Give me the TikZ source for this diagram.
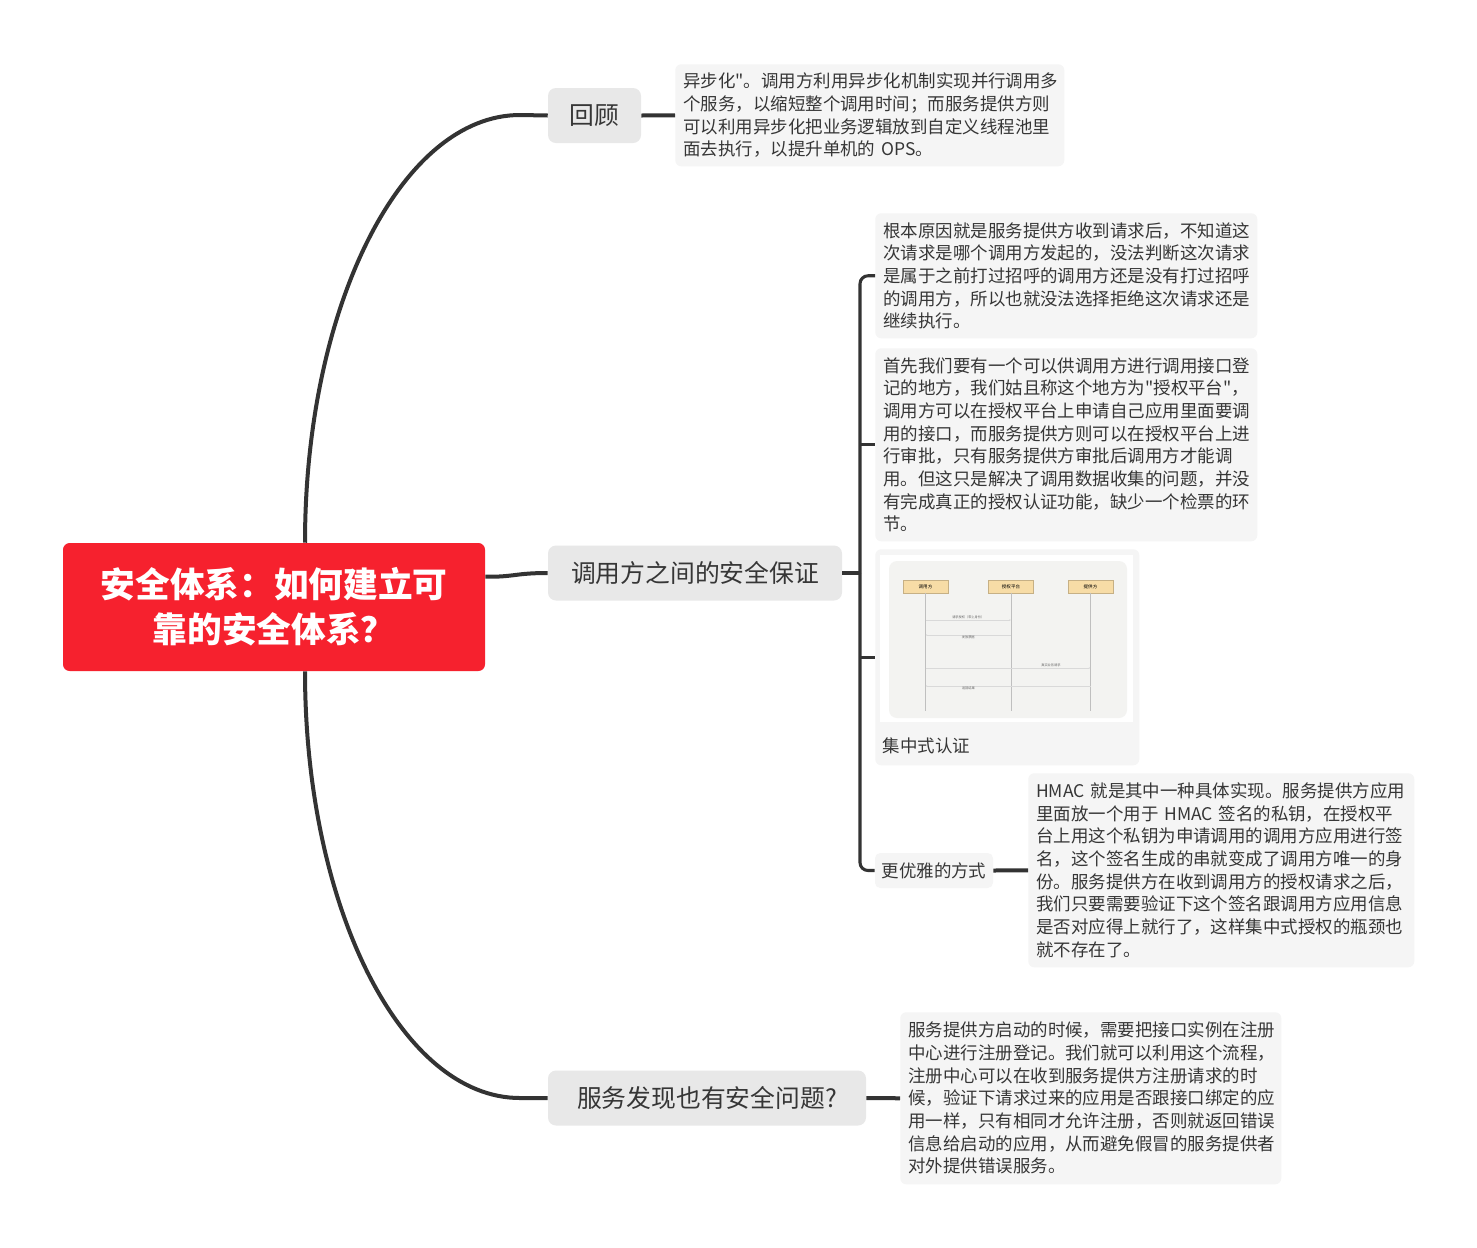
\documentclass[tikz,border=0pt]{standalone}
\usepackage{fontspec}
\setmainfont{Noto Sans CJK SC}
\newfontfamily\plainfont{Noto Sans CJK SC}
\usepackage{xcolor}
\usetikzlibrary{positioning,arrows.meta,calc}
\definecolor{rootred}{HTML}{F6212E}
\definecolor{topicgray}{HTML}{E8E8E8}
\definecolor{notegray}{HTML}{F5F5F5}
\definecolor{linkdark}{HTML}{333333}
\definecolor{textdark}{HTML}{363636}
\definecolor{seqbg}{HTML}{F3F3F1}
\definecolor{seqorange}{HTML}{F7DCA6}
\newcommand{\notefont}{\fontsize{13.1pt}{17pt}\selectfont}
\newcommand{\dq}{{\plainfont"}}
\tikzset{
root/.style={
fill=rootred,
rounded corners=5pt,
text=white,
align=center,
font=\fontsize{26pt}{34pt}\selectfont\bfseries,
minimum width=316.5pt,
minimum height=96pt
},
topic/.style={
fill=topicgray,
rounded corners=6pt,
text=textdark,
inner sep=0pt,
font=\fontsize{18.6pt}{22pt}\selectfont,
minimum height=41.25pt
},
subtopic/.style={
fill=notegray,
rounded corners=4pt,
text=textdark,
inner sep=0pt,
font=\notefont,
minimum width=88.5pt,
minimum height=26.25pt
},
note/.style={
fill=notegray,
rounded corners=4.5pt,
anchor=north west,
align=left,
text=textdark,
inner xsep=6pt,
inner ysep=0pt,
font=\notefont
},
seqhead/.style={
fill=seqorange,
draw=seqorange!80!black,
line width=0.2pt,
inner sep=0pt,
minimum width=33.75pt,
minimum height=9.75pt,
font=\fontsize{3.4pt}{4pt}\selectfont
},
seqlabel/.style={
inner sep=0.5pt,
text=black!60,
font=\fontsize{2.4pt}{3pt}\selectfont
},
lifeline/.style={
draw=black!25,
line width=0.6pt
},
msg/.style={
draw=black!15,
line width=0.5pt,
-{Latex[length=1.2pt,width=1.2pt]}
},
link/.style={
draw=linkdark,
line width=3pt
},
bracket/.style={
draw=linkdark,
line width=2.3pt
}
}
\begin{document}
\begin{tikzpicture}[x=0.75pt,y=-0.75pt]
\fill[white] (0,0) rectangle (1477,1247);
\useasboundingbox (0,0) rectangle (1477,1247);

% central topic
\node[root] (root) at (274,607) {安全体系：如何建立可\\靠的安全体系？};

% main branches
\node[topic,minimum width=69.75pt] (review) at (594.5,115.5) {回顾};
\node[topic,minimum width=220.5pt] (caller) at (695,573) {调用方之间的安全保证};
\node[topic,minimum width=238.5pt] (discovery) at (707,1098) {服务发现也有安全问题?};

% notes
\node[note,text width=279.75pt,minimum height=76.5pt] (recap) at (675,64)
{异步化\dq。调用方利用异步化机制实现并行调用多\\
个服务，以缩短整个调用时间；而服务提供方则\\
可以利用异步化把业务逻辑放到自定义线程池里\\
面去执行，以提升单机的~OPS。};

\node[note,text width=274.5pt,minimum height=93.75pt] (cause) at (875,213)
{根本原因就是服务提供方收到请求后，不知道这\\
次请求是哪个调用方发起的，没法判断这次请求\\
是属于之前打过招呼的调用方还是没有打过招呼\\
的调用方，所以也就没法选择拒绝这次请求还是\\
继续执行。};

\node[note,text width=274.5pt,minimum height=144.75pt] (platform) at (875,348)
{首先我们要有一个可以供调用方进行调用接口登\\
记的地方，我们姑且称这个地方为\dq 授权平台\dq，\\
调用方可以在授权平台上申请自己应用里面要调\\
用的接口，而服务提供方则可以在授权平台上进\\
行审批，只有服务提供方审批后调用方才能调\\
用。但这只是解决了调用数据收集的问题，并没\\
有完成真正的授权认证功能，缺少一个检票的环\\
节。};

\node[fill=notegray,rounded corners=4.5pt,anchor=north west,inner sep=0pt,
minimum width=198pt,minimum height=162pt] (picbox) at (875,549) {};
\node[anchor=west,inner sep=2pt,text=textdark,font=\notefont] (piccap) at (880,746) {集中式认证};

\node[subtopic] (elegant) at (934,870.5) {更优雅的方式};

\node[note,text width=277.5pt,minimum height=145.5pt] (hmac) at (1028,773)
{HMAC~就是其中一种具体实现。服务提供方应用\\
里面放一个用于~HMAC~签名的私钥，在授权平\\
台上用这个私钥为申请调用的调用方应用进行签\\
名，这个签名生成的串就变成了调用方唯一的身\\
份。服务提供方在收到调用方的授权请求之后，\\
我们只要需要验证下这个签名跟调用方应用信息\\
是否对应得上就行了，这样集中式授权的瓶颈也\\
就不存在了。};

\node[note,text width=273.75pt,minimum height=129pt] (register) at (900,1012)
{服务提供方启动的时候，需要把接口实例在注册\\
中心进行注册登记。我们就可以利用这个流程，\\
注册中心可以在收到服务提供方注册请求的时\\
候，验证下请求过来的应用是否跟接口绑定的应\\
用一样，只有相同才允许注册，否则就返回错误\\
信息给启动的应用，从而避免假冒的服务提供者\\
对外提供错误服务。};

% small sequence picture
\fill[white] (880,555) rectangle (1133,722);
\fill[seqbg,rounded corners=6pt] (889,561) rectangle (1127,718);
\foreach \n/\x/\t in {seqcaller/925.5/调用方,seqauth/1011/授权平台,seqprov/1090.5/提供方}
\node[seqhead] (\n) at (\x,586.5) {\t};
\foreach \n in {seqcaller,seqauth,seqprov}
\draw[lifeline] (\n.south) -- (\n.south |- 0,711);
\draw[msg] (seqcaller |- 0,620) -- (seqauth |- 0,620) node[midway,above,seqlabel] {请求授权（带上身份）};
\draw[msg] (seqauth |- 0,635) -- (seqcaller |- 0,635) node[midway,below,seqlabel] {发放票据};
\draw[msg] (seqcaller |- 0,668) -- (seqprov |- 0,668) node[pos=0.76,above,seqlabel] {真实业务请求};
\draw[msg] (seqprov |- 0,686) -- (seqcaller |- 0,686) node[pos=0.74,below,seqlabel] {返回结果};

% connectors
\draw[link] (root.north) ++(31,0) .. controls (305,307) and (401,115) .. (520,115) -- (review.west);
\draw[link] (root.south) ++(31,0) .. controls (305,907) and (401,1098) .. (520,1098) -- (discovery.west);
\draw[link] ($(root.north east)+(0,34)$) .. controls (515,577) and (515,573) .. (caller.west);
\draw[link] (review.east) -- (recap.west);
\draw[link] (elegant.east) -- (hmac.west);
\draw[link] (discovery.east) -- (register.west);

\coordinate (fork) at (860,573);
\draw[bracket] (caller.east) -- (fork);
\draw[bracket,rounded corners=6pt] (fork) |- (cause.west);
\draw[bracket,rounded corners=6pt] (fork) |- (elegant.west);
\draw[bracket] (platform.west -| fork) -- (platform.west);
\draw[bracket] (picbox.west -| fork) -- (picbox.west);
\end{tikzpicture}
\end{document}
